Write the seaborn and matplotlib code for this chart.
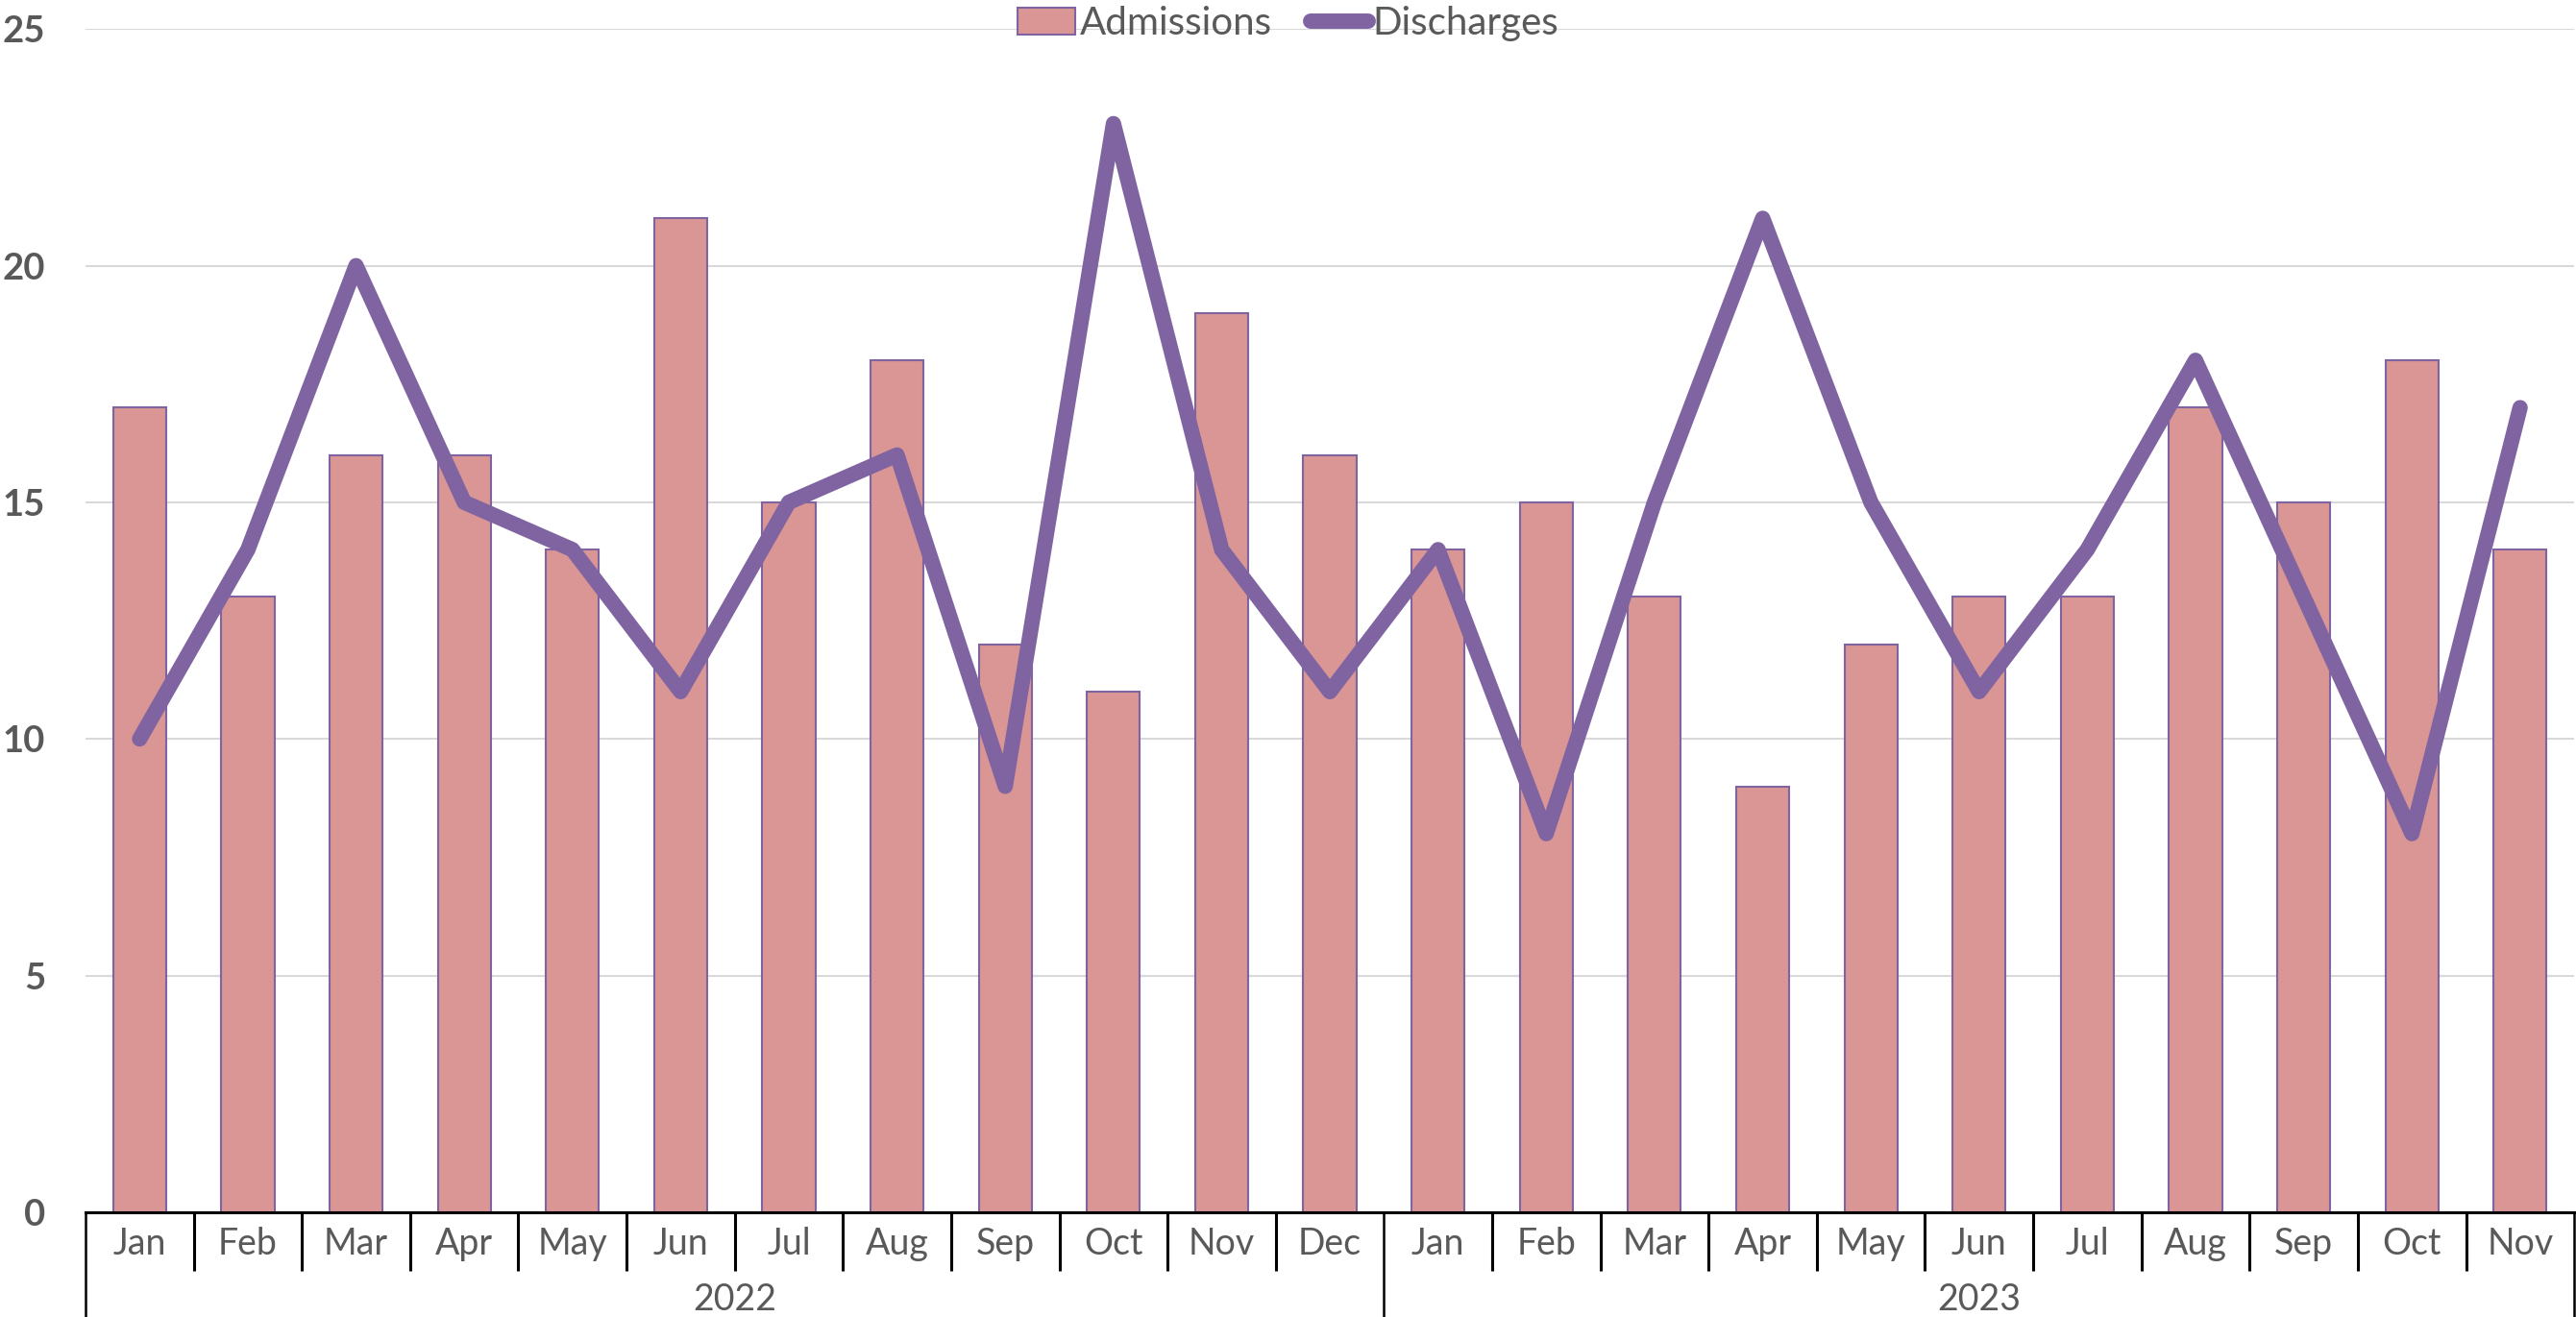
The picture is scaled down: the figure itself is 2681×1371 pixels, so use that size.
import matplotlib
matplotlib.use("Agg")
import matplotlib.pyplot as plt
import matplotlib.transforms as mtransforms
from matplotlib.patches import Patch
from matplotlib.lines import Line2D
import seaborn as sns
import pandas as pd

months = ["Jan", "Feb", "Mar", "Apr", "May", "Jun", "Jul", "Aug", "Sep", "Oct", "Nov", "Dec",
          "Jan", "Feb", "Mar", "Apr", "May", "Jun", "Jul", "Aug", "Sep", "Oct", "Nov"]
years = ["2022"] * 12 + ["2023"] * 11
admissions = [17, 13, 16, 16, 14, 21, 15, 18, 12, 11, 19, 16,
              14, 15, 13, 9, 12, 13, 13, 17, 15, 18, 14]
discharges = [10, 14, 20, 15, 14, 11, 15, 16, 9, 23, 14, 11,
              14, 8, 15, 21, 15, 11, 14, 18, 13, 8, 17]

bar_col = "#D99694"
line_col = "#8064A2"
txt_col = "#595959"

sns.set_style("white")
plt.rcParams["font.family"] = ["Lato", "DejaVu Sans"]

df = pd.DataFrame({
    "pos": range(len(months)),
    "Month": months,
    "Year": years,
    "Admissions": admissions,
    "Discharges": discharges,
})

fig = plt.figure(figsize=(26.81, 13.71), dpi=100)
ax = fig.add_axes([0.0332, 0.0795, 0.9661, 0.8985])

sns.barplot(data=df, x="pos", y="Admissions", ax=ax, color=bar_col, saturation=1,
            width=0.49, edgecolor=line_col, linewidth=1.5)
sns.lineplot(data=df, x="pos", y="Discharges", ax=ax, color=line_col, lw=11.5,
             solid_capstyle="round", solid_joinstyle="round", legend=False)

ax.set_xlim(-0.5, len(months) - 0.5)
ax.set_ylim(0, 25)
ax.set_yticks(range(0, 26, 5))
ax.set_xticks([])
ax.set_xlabel("")
ax.set_ylabel("")
ax.yaxis.grid(True, color="#D9D9D9", lw=1.5)
ax.set_axisbelow(True)
for s in ["top", "right", "left"]:
    ax.spines[s].set_visible(False)
ax.spines["bottom"].set_color("black")
ax.spines["bottom"].set_linewidth(2.2)
ax.tick_params(axis="y", length=0, pad=30, labelsize=27.5, labelcolor=txt_col)
for lbl in ax.get_yticklabels():
    lbl.set_fontweight("bold")

# two-level category axis
trans = mtransforms.blended_transform_factory(ax.transData, ax.transAxes)
for i, m in enumerate(months):
    ax.text(i, -0.027, m, transform=trans, ha="center", va="center",
            fontsize=27, color=txt_col)
for i in range(len(months) + 1):
    edge = i == 0 or i == len(months) or years[i] != years[i - 1]
    y0 = -0.09 if edge else -0.0495
    ax.plot([i - 0.5, i - 0.5], [0, y0], transform=trans, color="black",
            lw=2.2 if not edge else 1.8, clip_on=False, solid_capstyle="butt")
for yr, grp in df.groupby("Year"):
    ax.text(grp["pos"].mean(), -0.074, yr, transform=trans, ha="center",
            va="center", fontsize=27, color=txt_col)

handles = [Patch(facecolor=bar_col, edgecolor=line_col, linewidth=1.5),
           Line2D([0], [0], color=line_col, lw=11.5, solid_capstyle="round")]
fig.legend(handles, ["Admissions", "Discharges"], loc="center",
           bbox_to_anchor=(0.5, 0.982), ncol=2, frameon=False, fontsize=29,
           labelcolor=txt_col, handlelength=1.5, handletextpad=0.1,
           columnspacing=1.0)

fig.savefig("out.png", dpi=100)
